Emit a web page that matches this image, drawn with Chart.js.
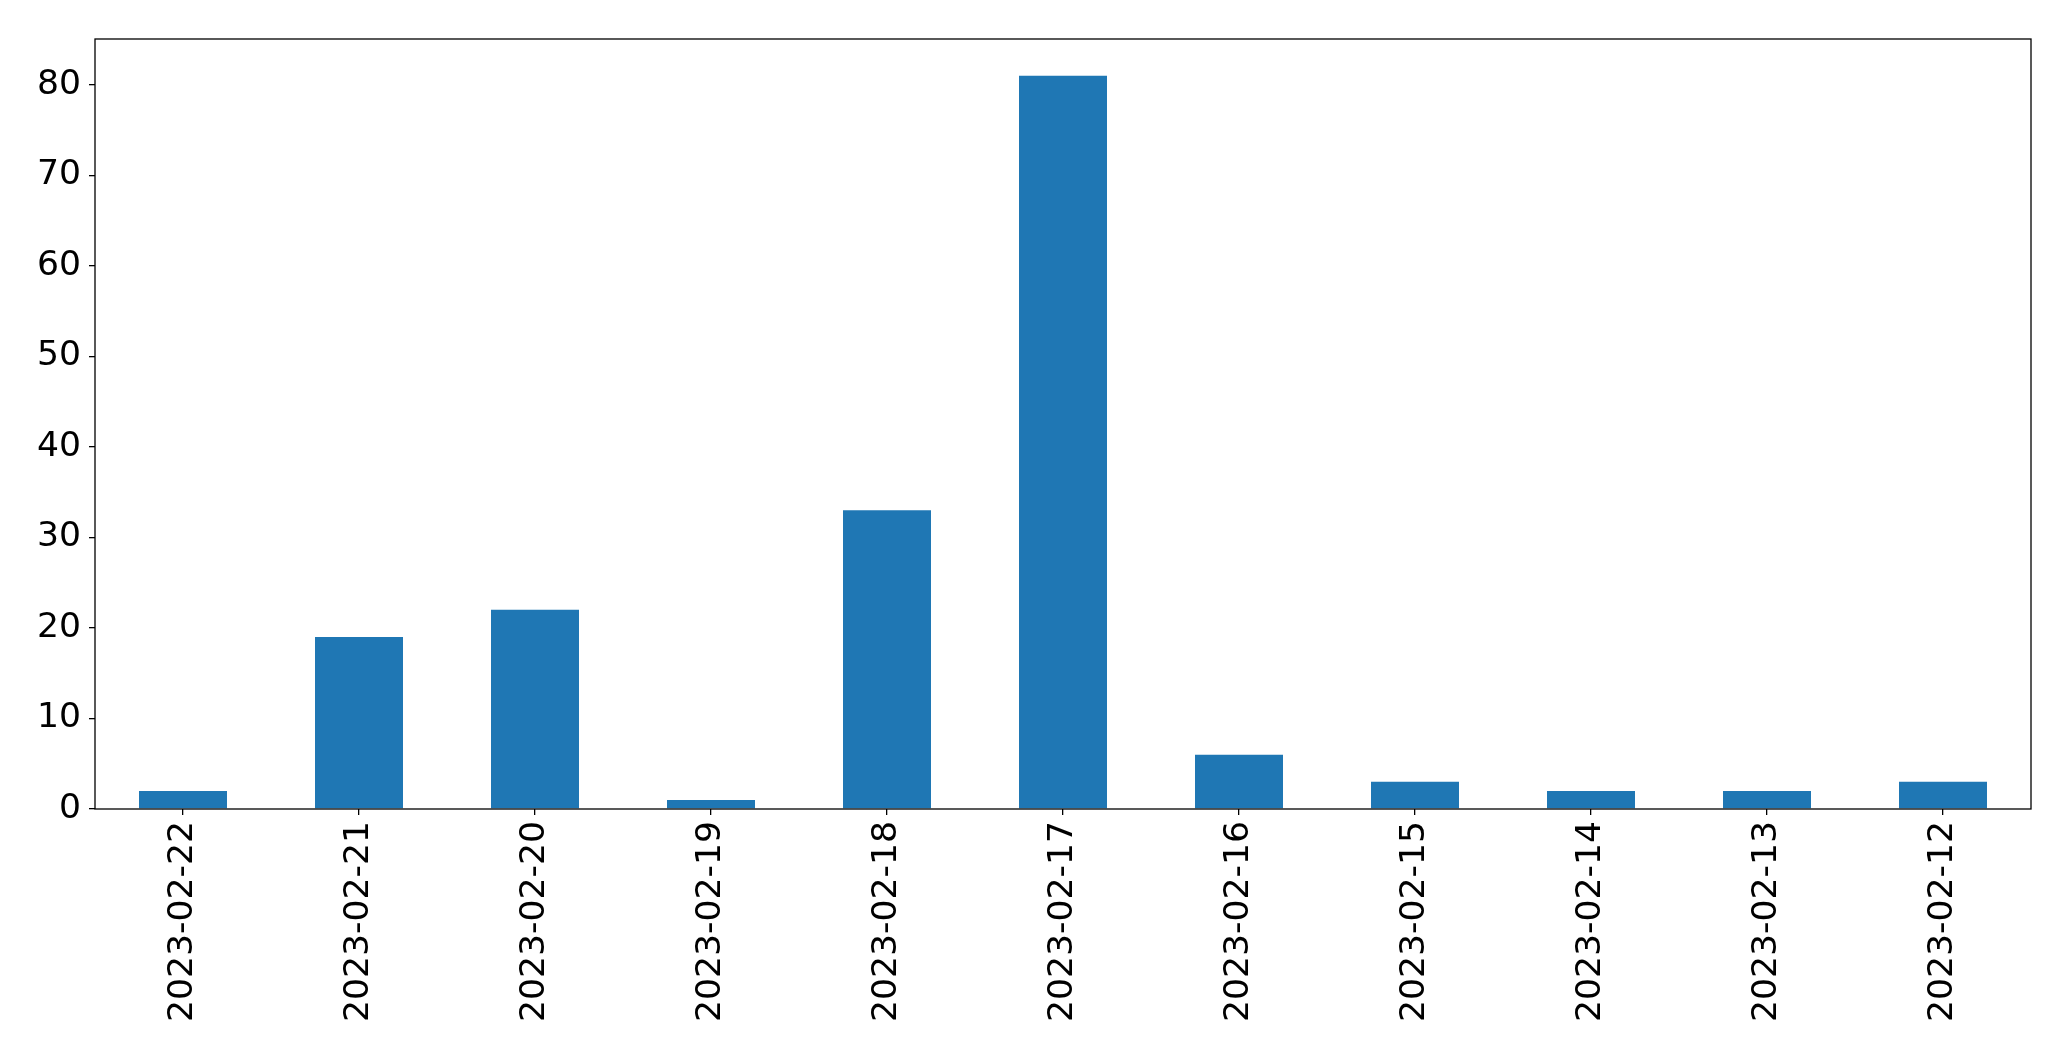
<!DOCTYPE html>
<html>
<head>
<meta charset="utf-8">
<script src="https://cdn.jsdelivr.net/npm/chart.js@4/dist/chart.umd.min.js"></script>
<style>
  html, body { margin: 0; padding: 0; background: #fff; }
  #wrap { width: 2071px; height: 1061px; }
</style>
</head>
<body>
<div id="wrap"><canvas id="chart_canvas" width="2071" height="1061"></canvas></div>
<script>
const dates = ['2023-02-22', '2023-02-21', '2023-02-20', '2023-02-19', '2023-02-18', '2023-02-17',
  '2023-02-16', '2023-02-15', '2023-02-14', '2023-02-13', '2023-02-12'];
const counts = [2, 19, 22, 1, 33, 81, 6, 3, 2, 2, 3];
const yTicks = [0, 10, 20, 30, 40, 50, 60, 70, 80];

// box around the plot area, like matplotlib's spines
const frameBox = {
  id: 'frameBox',
  afterDraw(chart) {
    const a = chart.chartArea;
    const c = chart.ctx;
    c.save();
    c.strokeStyle = '#000';
    c.lineWidth = 1.3;
    c.strokeRect(a.left, a.top, a.right - a.left, a.bottom - a.top);
    c.restore();
  }
};

const ctx = document.getElementById('chart_canvas');
const wkly_chart = new Chart(ctx, { // eslint-disable-line no-unused-vars, no-undef
  type: 'bar',
  data: {
    labels: dates,
    datasets: [{
      data: counts,
      backgroundColor: '#1f77b4',
      categoryPercentage: 1.0,
      barPercentage: 0.5
    }]
  },
  options: {
    responsive: false,
    animation: false,
    layout: { padding: { top: 39, right: 40, left: 0, bottom: 0 } },
    plugins: { legend: { display: false }, tooltip: { enabled: false } },
    scales: {
      x: {
        grid: { display: true, offset: false, drawOnChartArea: false, drawTicks: true, tickLength: 6, tickColor: '#000', lineWidth: 1.3 },
        border: { display: false },
        ticks: {
          color: '#000',
          font: { family: 'DejaVu Sans', size: 34.6 },
          minRotation: 90,
          maxRotation: 90,
          autoSkip: false,
          padding: 6
        },
        afterFit(scale) { scale.height = 1061 - 809; }
      },
      y: {
        min: 0,
        max: 85.05,
        afterBuildTicks(scale) { scale.ticks = yTicks.map(v => ({ value: v })); },
        grid: { display: true, drawOnChartArea: false, drawTicks: true, tickLength: 6, tickColor: '#000', lineWidth: 1.3 },
        border: { display: false },
        ticks: {
          color: '#000',
          font: { family: 'DejaVu Sans', size: 34.6 },
          padding: 8
        },
        afterFit(scale) { scale.width = 95; }
      }
    }
  },
  plugins: [frameBox]
});
</script>
</body>
</html>
